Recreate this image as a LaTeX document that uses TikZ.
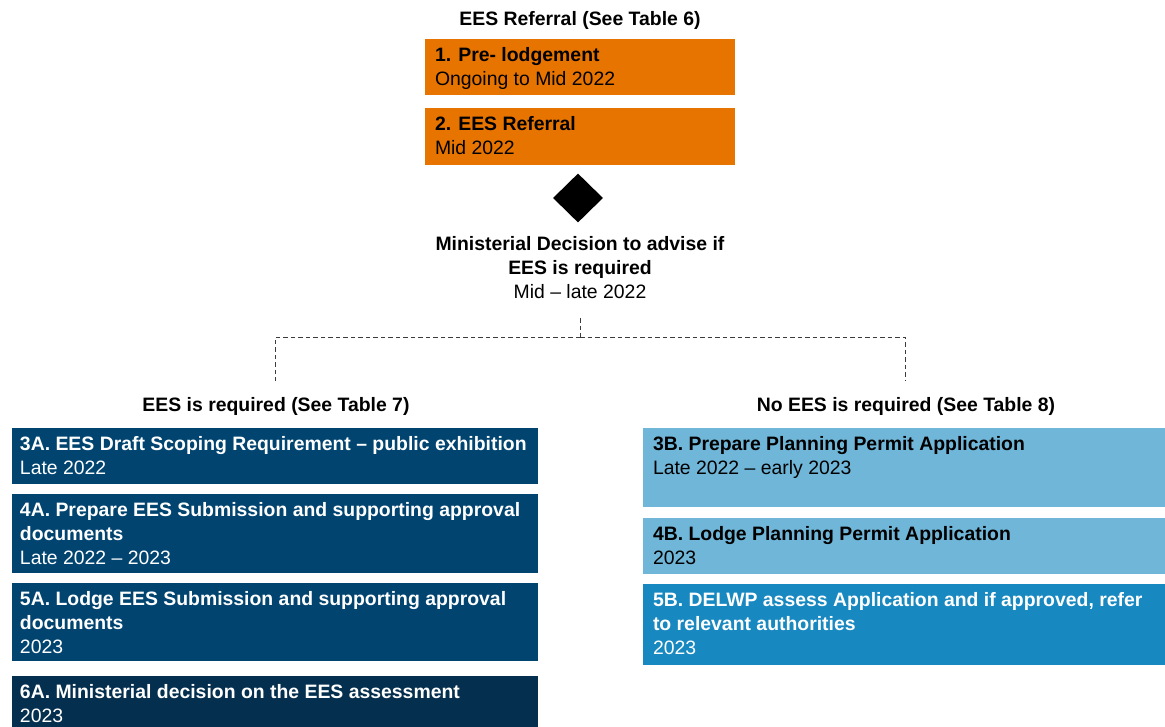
\documentclass[tikz,border=0pt]{standalone}
\usepackage{fontspec}
\setmainfont{Liberation Sans}
\usetikzlibrary{shapes.geometric}
\definecolor{eorange}{RGB}{232,116,0}
\definecolor{edblue}{RGB}{1,68,112}
\definecolor{edkblue}{RGB}{5,47,78}
\definecolor{elblue}{RGB}{111,182,216}
\definecolor{emblue}{RGB}{23,136,192}
\definecolor{edash}{RGB}{60,60,60}
\newcommand{\bx}[3]{\parbox[c][#1][t]{#2}{\vspace*{6.5pt}\strut#3}}
\tikzset{
  every node/.style={font=\fontsize{19.4}{24}\selectfont},
  stage/.style={anchor=north west, inner sep=0pt, outer sep=0pt, align=left, draw=white, line width=0.6pt},
  head/.style={font=\fontsize{19.4}{24}\selectfont\bfseries, inner sep=0pt},
  conn/.style={draw=edash, dashed, dash pattern=on 4.5pt off 3pt, line width=0.8pt}
}
\begin{document}
\begin{tikzpicture}[x=1pt,y=-1pt]
\useasboundingbox (0,0) rectangle (1165,726);
% top
\node[head] (t0) at (580,20) {EES Referral (See Table 6)};
\node[stage, fill=eorange, text=black] (s1) at (424,38) {\bx{57pt}{311pt}{\hspace*{11pt}\textbf{1. Pre- lodgement}\\\hspace*{11pt}Ongoing to Mid 2022}};
\node[stage, fill=eorange, text=black] (s2) at (424,107) {\bx{58pt}{311pt}{\hspace*{11pt}\textbf{2. EES Referral}\\\hspace*{11pt}Mid 2022}};
\node[diamond, fill=black, inner sep=0pt, minimum width=50pt, minimum height=49pt] (d) at (578,198) {};
\node[align=center, inner sep=0pt] (dec) at (580,268) {\textbf{Ministerial Decision to advise if}\\\textbf{EES is required}\\Mid -- late 2022};
% branches
\coordinate (c0) at (580,318);
\coordinate (c1) at (580,337);
\node[head] (lh) at (276,406) {EES is required (See Table 7)};
\node[head] (rh) at (906,406) {No EES is required (See Table 8)};
\coordinate (le) at (275,381);
\coordinate (re) at (905,381);
\draw[conn] (c0) -- (c1);
\draw[conn] (c1) -| (le);
\draw[conn] (c1) -| (re);
% left column
\node[stage, fill=edblue, text=white] (a3) at (11,427) {\bx{57pt}{527pt}{\hspace*{9pt}\textbf{3A. EES Draft Scoping Requirement -- public exhibition}\\\hspace*{9pt}Late 2022}};
\node[stage, fill=edblue, text=white] (a4) at (11,493) {\bx{80pt}{527pt}{\hspace*{9pt}\textbf{4A. Prepare EES Submission and supporting approval}\\\hspace*{9pt}\textbf{documents}\\\hspace*{9pt}Late 2022 -- 2023}};
\node[stage, fill=edblue, text=white] (a5) at (11,582) {\bx{79pt}{527pt}{\hspace*{9pt}\textbf{5A. Lodge EES Submission and supporting approval}\\\hspace*{9pt}\textbf{documents}\\\hspace*{9pt}2023}};
\node[stage, fill=edkblue, text=white] (a6) at (11,675) {\bx{62pt}{527pt}{\hspace*{9pt}\textbf{6A. Ministerial decision on the EES assessment}\\\hspace*{9pt}2023}};
% right column
\node[stage, fill=elblue, text=black] (b3) at (642,427) {\bx{80pt}{530pt}{\hspace*{11pt}\textbf{3B. Prepare Planning Permit Application}\\\hspace*{11pt}Late 2022 -- early 2023}};
\node[stage, fill=elblue, text=black] (b4) at (642,517) {\bx{57pt}{530pt}{\hspace*{11pt}\textbf{4B. Lodge Planning Permit Application}\\\hspace*{11pt}2023}};
\node[stage, fill=emblue, text=white] (b5) at (642,583) {\bx{82pt}{530pt}{\hspace*{11pt}\textbf{5B. DELWP assess Application and if approved, refer}\\\hspace*{11pt}\textbf{to relevant authorities}\\\hspace*{11pt}2023}};
\end{tikzpicture}
\end{document}
